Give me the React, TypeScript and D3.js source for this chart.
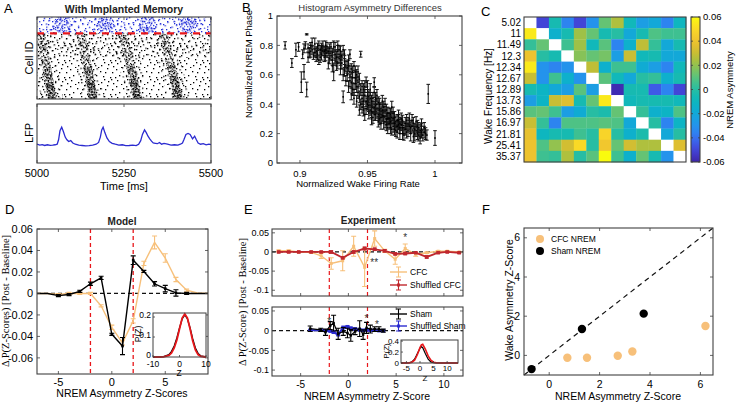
import React from "react";
import * as d3 from "d3";

const SANS = "'Liberation Sans', Arial, Helvetica, sans-serif";
const SERIF = "'Liberation Serif', 'Times New Roman', serif";
const AXC = "#404040";
const ORANGE = "#f7c07a";
const RED = "#e8161a";
const DARKRED = "#c0272d";
const BLUE = "#2b2bd0";

// ---------------- Panel A ----------------
const timeTicks = [5000, 5250, 5500];
const waveTopT = [5010, 5125, 5246, 5362];
const waveMidT = [5026, 5143, 5267, 5384];
const waveBottomT = [5044, 5163, 5290, 5408];
const burstT = [5072, 5197, 5317, 5433];
const lfpT = [5000, 5008, 5015, 5022, 5030, 5038, 5045, 5052, 5058, 5062, 5066, 5071, 5076, 5081, 5086, 5091, 5097, 5103, 5110, 5120, 5130, 5140, 5150, 5160, 5170, 5177, 5182, 5186, 5190, 5195, 5201, 5208, 5216, 5225, 5235, 5245, 5255, 5265, 5275, 5285, 5292, 5298, 5303, 5309, 5314, 5319, 5324, 5329, 5334, 5340, 5346, 5352, 5358, 5365, 5375, 5385, 5395, 5405, 5412, 5418, 5422, 5428, 5434, 5440, 5447, 5453, 5458, 5463, 5470, 5478, 5486, 5494, 5500];
const lfpV = [0.05, 0.0, 0.03, -0.02, 0.02, -0.01, 0.0, 0.02, 0.05, 0.3, 0.8, 1.0, 0.75, 0.45, 0.3, 0.2, 0.25, 0.12, 0.05, 0.0, -0.02, -0.04, -0.03, 0.0, 0.05, 0.15, 0.45, 0.85, 1.0, 0.7, 0.4, 0.2, 0.1, 0.05, 0.0, 0.02, -0.03, -0.02, 0.0, -0.03, 0.05, 0.25, 0.6, 0.85, 0.7, 0.5, 0.35, 0.22, 0.12, 0.1, 0.08, 0.15, 0.05, 0.1, 0.05, 0.0, 0.02, 0.0, 0.05, 0.12, 0.3, 0.6, 0.65, 0.6, 0.35, 0.5, 0.3, 0.12, 0.05, 0.08, 0.02, 0.05, 0.03];
// raster texture tiles (spike-dot texture)
const sparseDots = [[1, 1], [8, 3], [15, 0], [20, 4], [4, 7], [11, 8], [18, 9], [2, 12], [9, 14], [16, 13], [21, 15], [6, 16], [13, 4], [19, 11], [0, 9], [12, 11]];
const denseDots = [[0, 0], [4, 1], [8, 0], [2, 3], [6, 4], [10, 3], [1, 6], [5, 7], [9, 6], [3, 9], [7, 10], [0, 11], [10, 9], [6, 12], [2, 12], [8, 8], [4, 5], [9, 12], [1, 9], [7, 2], [3, 0], [5, 10]];

// ---------------- Panel B ----------------
const bTicksX = [0.9, 0.95, 1];
const bTicksY = [0, 0.2, 0.4, 0.6, 0.8, 1];
const bPoints: number[][] = [
  [0.889, 0.8, 0.025], [0.894, 0.68, 0.03], [0.897, 0.77, 0.045], [0.899, 0.79, 0.03], [0.901, 0.55, 0.07], [0.902, 0.74, 0.03], [0.903, 0.62, 0.05], [0.904, 0.8, 0.025], [0.905, 0.875, 0.004], [0.905, 0.5, 0.05], [0.906, 0.78, 0.03], [0.907, 0.75, 0.035], [0.908, 0.8, 0.02], [0.909, 0.77, 0.03], [0.91, 0.73, 0.025], [0.911, 0.81, 0.04], [0.912, 0.76, 0.03], [0.913, 0.79, 0.025], [0.914, 0.7, 0.03], [0.915, 0.77, 0.03], [0.916, 0.74, 0.04], [0.917, 0.8, 0.03], [0.918, 0.72, 0.03], [0.919, 0.77, 0.025], [0.92, 0.75, 0.03], [0.921, 0.68, 0.04], [0.922, 0.78, 0.03], [0.923, 0.73, 0.03], [0.924, 0.7, 0.035], [0.925, 0.79, 0.04], [0.925, 0.62, 0.06], [0.926, 0.74, 0.03], [0.927, 0.66, 0.03], [0.928, 0.76, 0.04], [0.929, 0.71, 0.03], [0.93, 0.64, 0.04], [0.931, 0.73, 0.03], [0.932, 0.6, 0.04], [0.932, 0.45, 0.04], [0.933, 0.69, 0.04], [0.934, 0.56, 0.035], [0.935, 0.65, 0.04], [0.936, 0.52, 0.04], [0.937, 0.62, 0.04], [0.938, 0.47, 0.04], [0.939, 0.58, 0.035], [0.94, 0.66, 0.03], [0.94, 0.44, 0.04], [0.941, 0.54, 0.04], [0.942, 0.6, 0.035], [0.943, 0.48, 0.04], [0.944, 0.57, 0.04], [0.945, 0.74, 0.02], [0.945, 0.4, 0.035], [0.946, 0.52, 0.04], [0.947, 0.36, 0.04], [0.948, 0.46, 0.04], [0.949, 0.55, 0.035], [0.95, 0.4, 0.04], [0.951, 0.34, 0.04], [0.952, 0.44, 0.04], [0.953, 0.3, 0.04], [0.954, 0.38, 0.04], [0.955, 0.48, 0.035], [0.956, 0.33, 0.04], [0.957, 0.4, 0.04], [0.958, 0.28, 0.035], [0.959, 0.36, 0.04], [0.96, 0.31, 0.04], [0.961, 0.42, 0.04], [0.962, 0.27, 0.04], [0.963, 0.35, 0.035], [0.964, 0.3, 0.04], [0.965, 0.24, 0.04], [0.966, 0.34, 0.035], [0.967, 0.28, 0.04], [0.968, 0.38, 0.04], [0.969, 0.25, 0.04], [0.97, 0.31, 0.04], [0.971, 0.22, 0.04], [0.972, 0.29, 0.04], [0.973, 0.26, 0.035], [0.974, 0.2, 0.04], [0.975, 0.3, 0.04], [0.976, 0.24, 0.04], [0.977, 0.19, 0.035], [0.978, 0.27, 0.04], [0.98, 0.22, 0.04], [0.981, 0.3, 0.04], [0.982, 0.2, 0.05], [0.983, 0.25, 0.04], [0.984, 0.18, 0.04], [0.985, 0.23, 0.04], [0.986, 0.28, 0.035], [0.987, 0.2, 0.04], [0.988, 0.24, 0.035], [0.989, 0.17, 0.04], [0.99, 0.21, 0.04], [0.991, 0.19, 0.04], [0.992, 0.24, 0.035], [0.995, 0.47, 0.065], [1.0, 0.17, 0.05],
  [0.912, 0.72, 0.03], [0.916, 0.79, 0.025], [0.918, 0.76, 0.03], [0.92, 0.79, 0.03], [0.922, 0.71, 0.035], [0.924, 0.75, 0.03], [0.926, 0.79, 0.03], [0.927, 0.72, 0.04], [0.929, 0.77, 0.03], [0.93, 0.7, 0.035], [0.933, 0.74, 0.03], [0.934, 0.66, 0.04], [0.936, 0.7, 0.035], [0.937, 0.56, 0.04], [0.938, 0.64, 0.035], [0.939, 0.5, 0.04], [0.941, 0.62, 0.04], [0.942, 0.42, 0.04], [0.943, 0.55, 0.04], [0.944, 0.36, 0.035], [0.946, 0.44, 0.04], [0.947, 0.5, 0.04], [0.948, 0.33, 0.04], [0.949, 0.42, 0.035], [0.95, 0.52, 0.04], [0.951, 0.45, 0.04], [0.952, 0.36, 0.035], [0.953, 0.42, 0.04], [0.954, 0.31, 0.04], [0.955, 0.38, 0.04], [0.956, 0.44, 0.04], [0.957, 0.34, 0.035], [0.958, 0.41, 0.04], [0.959, 0.3, 0.04], [0.96, 0.37, 0.04], [0.961, 0.32, 0.035], [0.962, 0.38, 0.04], [0.963, 0.28, 0.04], [0.964, 0.36, 0.04], [0.965, 0.3, 0.035], [0.966, 0.27, 0.04], [0.967, 0.33, 0.04], [0.968, 0.23, 0.04], [0.969, 0.3, 0.035], [0.97, 0.27, 0.04], [0.972, 0.25, 0.04], [0.973, 0.32, 0.04], [0.974, 0.27, 0.04], [0.976, 0.29, 0.035], [0.977, 0.24, 0.04], [0.979, 0.21, 0.04], [0.979, 0.29, 0.04], [0.981, 0.25, 0.04], [0.983, 0.29, 0.04], [0.985, 0.2, 0.05], [0.987, 0.25, 0.04], [0.989, 0.22, 0.04], [0.99, 0.26, 0.04], [0.993, 0.2, 0.04], [0.955, 0.55, 0.03],
  [0.903, 0.78, 0.03], [0.906, 0.72, 0.035], [0.908, 0.76, 0.04], [0.909, 0.82, 0.03], [0.911, 0.75, 0.03], [0.913, 0.74, 0.04], [0.914, 0.8, 0.03], [0.915, 0.72, 0.035], [0.917, 0.76, 0.03], [0.919, 0.73, 0.035], [0.919, 0.8, 0.03], [0.921, 0.76, 0.03], [0.923, 0.79, 0.03], [0.924, 0.66, 0.04], [0.926, 0.7, 0.035], [0.928, 0.68, 0.04], [0.928, 0.8, 0.03], [0.93, 0.76, 0.035], [0.931, 0.68, 0.04], [0.932, 0.77, 0.03], [0.933, 0.63, 0.04], [0.935, 0.6, 0.045], [0.936, 0.66, 0.04], [0.937, 0.74, 0.03], [0.938, 0.55, 0.04], [0.939, 0.62, 0.04], [0.94, 0.5, 0.04], [0.941, 0.58, 0.04], [0.942, 0.52, 0.04], [0.943, 0.62, 0.04], [0.944, 0.45, 0.04], [0.945, 0.5, 0.04], [0.946, 0.38, 0.04], [0.947, 0.42, 0.04], [0.948, 0.52, 0.04], [0.949, 0.37, 0.04], [0.95, 0.46, 0.04], [0.951, 0.39, 0.04], [0.952, 0.5, 0.04], [0.953, 0.35, 0.04], [0.954, 0.44, 0.04], [0.955, 0.33, 0.04], [0.956, 0.39, 0.04], [0.957, 0.46, 0.04], [0.958, 0.33, 0.04], [0.959, 0.4, 0.04], [0.96, 0.27, 0.04], [0.961, 0.36, 0.04], [0.962, 0.32, 0.04], [0.963, 0.4, 0.04], [0.964, 0.26, 0.04], [0.965, 0.34, 0.04], [0.966, 0.3, 0.04], [0.967, 0.24, 0.04], [0.968, 0.31, 0.04], [0.969, 0.34, 0.04], [0.97, 0.23, 0.04], [0.971, 0.28, 0.04], [0.972, 0.21, 0.04], [0.973, 0.29, 0.04], [0.974, 0.24, 0.04], [0.975, 0.26, 0.04], [0.976, 0.2, 0.04], [0.978, 0.23, 0.04], [0.98, 0.27, 0.04], [0.982, 0.24, 0.04], [0.984, 0.27, 0.04], [0.986, 0.22, 0.04], [0.988, 0.19, 0.04], [0.99, 0.23, 0.04], [0.992, 0.21, 0.04], [0.994, 0.19, 0.035],
];

// ---------------- Panel C ----------------
const freqLabels = ["5.02", "11", "11.49", "12.3", "12.34", "12.67", "12.89", "13.73", "15.86", "16.97", "21.81", "25.41", "35.37"];
const cbTicks = [0.06, 0.04, 0.02, 0, -0.02, -0.04, -0.06];
const heatRows: (number | null)[][] = [
  [null, -0.05, -0.005, -0.035, -0.05, -0.03, 0.012, 0.025, -0.008, -0.025, -0.02, -0.035, -0.01],
  [0.055, null, -0.015, -0.005, 0.022, 0.012, -0.005, 0, -0.02, -0.005, 0.008, 0.005, 0.005],
  [0.003, 0.012, null, 0.005, 0.022, -0.008, 0.01, -0.035, -0.015, 0.028, 0.003, -0.02, -0.005],
  [0.04, 0, -0.005, null, 0.018, 0.012, 0.015, -0.025, 0.03, -0.008, -0.005, -0.02, -0.02],
  [0.055, -0.03, -0.035, -0.03, null, 0.028, -0.015, 0.005, 0.005, -0.018, -0.025, -0.035, -0.008],
  [0.03, -0.03, 0.005, -0.015, -0.03, null, 0.01, -0.008, -0.02, 0, 0.003, -0.015, -0.005],
  [-0.005, -0.012, -0.02, -0.025, 0.01, -0.025, null, -0.058, -0.005, -0.005, -0.045, -0.035, -0.05],
  [-0.025, -0.012, 0.03, 0.035, -0.005, 0.012, 0.055, null, -0.008, -0.005, -0.005, -0.005, -0.008],
  [0.01, 0.012, 0.005, -0.025, -0.018, 0, -0.003, 0.012, null, 0.003, -0.015, -0.012, 0.008],
  [0.03, 0.003, -0.035, 0.008, 0.008, 0.008, 0.01, 0.008, -0.02, null, 0, -0.035, -0.012],
  [0.038, -0.01, -0.005, -0.005, 0.005, 0, 0.048, 0, -0.015, -0.003, null, -0.02, 0],
  [0.04, 0.008, 0.02, 0.032, 0.05, 0, 0.042, 0.012, 0.032, 0.025, 0.025, null, 0.035],
  [0.04, 0.005, 0.003, 0.025, 0, 0.01, 0.06, 0.005, -0.015, 0.012, -0.005, -0.03, null],
];
const parulaStops = ["#3e26a8", "#4748e5", "#2e87f7", "#1aa1e3", "#05b6c4", "#20bda5", "#64c577", "#abc037", "#e8bb2f", "#fcd02e", "#f9fb0e"];

// ---------------- Panel D ----------------
const dTicksX = [-5, 0, 5];
const dTicksY = [0.06, 0.04, 0.02, 0, -0.02, -0.04, -0.06];
const dX = [-7, -6, -5, -4, -3, -2, -1, 0, 1, 2, 3, 4, 5, 6, 7, 8, 9];
const dBlack = [0, 0, -0.002, -0.001, 0.002, 0.009, 0.0145, -0.038, -0.049, 0.031, 0.0205, 0.009, 0.0045, 0.0005, 0, 0, 0];
const dBlackErr = [0, 0, 0.001, 0.001, 0.001, 0.0015, 0.0015, 0.001, 0.008, 0.004, 0.001, 0.002, 0.003, 0.003, 0.001, 0, 0];
const dCFC = [0, 0, -0.001, 0, 0, 0, -0.0115, -0.0315, -0.046, -0.0255, 0.028, 0.0475, 0.033, 0.013, 0.003, 0.0005, 0];
const dCFCErr = [0, 0, 0.001, 0.001, 0.001, 0.001, 0.001, 0.002, 0.002, 0.002, 0.002, 0.006, 0.004, 0.002, 0.001, 0, 0];
const dInsetZ = [-10, -8, -6, -4, -3, -2, -1, 0, 1, 2, 3, 4, 5, 6, 7, 8, 10];
const dInsetBlack = [0, 0, 0.002, 0.012, 0.028, 0.055, 0.095, 0.145, 0.19, 0.21, 0.19, 0.145, 0.09, 0.045, 0.018, 0.006, 0];
const dInsetRed = [0, 0, 0.001, 0.008, 0.02, 0.045, 0.085, 0.14, 0.195, 0.215, 0.195, 0.14, 0.08, 0.035, 0.012, 0.003, 0];
const dThresholds = [-2, 2];

// ---------------- Panel E ----------------
const eTicksX = [-5, 0, 5, 10];
const eTicksY = [0.05, 0, -0.05, -0.1];
const eTopX = [-7.3, -6.25, -5.2, -3.9, -2.85, -1.8, -0.6, 0.55, 1.7, 2.75, 3.8, 4.9, 5.95, 7.05, 8.2, 9.4, 10.35, 11.6];
const eCFC = [0.003, 0.003, 0, -0.001, -0.01, -0.03, -0.023, 0.015, -0.04, 0.035, 0.003, -0.019, 0.009, -0.006, -0.002, 0.002, 0.002, 0];
const eCFCErr = [0.002, 0.002, 0.001, 0.002, 0.007, 0.015, 0.026, 0.026, 0.05, 0.02, 0.004, 0.013, 0.012, 0.005, 0.002, 0.002, 0.002, 0.001];
const eShufCFC = [0, 0, 0, 0, 0, 0, -0.015, 0, 0.009, 0.007, 0.003, -0.005, -0.004, -0.002, -0.013, -0.002, 0, -0.002];
const eShufCFCErr = [0.002, 0.002, 0.002, 0.002, 0.002, 0.003, 0.003, 0.003, 0.004, 0.003, 0.003, 0.003, 0.003, 0.002, 0.003, 0.002, 0.002, 0.002];
const eBotX = [-4.0, -2.9, -2.4, -1.9, -1.55, -1.07, -0.54, -0.1, 0.25, 0.7, 1.18, 1.54, 1.9, 2.3, 2.75, 3.2, 3.65];
const eSham = [0.005, 0.002, -0.004, 0.013, 0.019, -0.008, -0.002, -0.006, -0.012, -0.002, 0.005, -0.01, 0.007, 0.004, 0.004, 0.004, 0];
const eShamErr = [0.007, 0.004, 0.008, 0.01, 0.02, 0.014, 0.01, 0.012, 0.015, 0.008, 0.02, 0.012, 0.014, 0.01, 0.006, 0.006, 0.004];
const eShufSham = [0.001, 0.001, 0, -0.001, -0.004, -0.01, 0.008, 0.01, 0.006, 0.004, 0.002, 0.001, 0.002, 0.001, 0.001, 0, 0];
const eShufShamErr = [0.002, 0.002, 0.002, 0.002, 0.003, 0.003, 0.003, 0.003, 0.003, 0.003, 0.002, 0.002, 0.002, 0.002, 0.002, 0.002, 0.002];
const eTopStars = [{ x: 5.95, y: 0.045, s: "*" }, { x: 2.7, y: -0.022, s: "**" }];
const eBotStars = [{ x: -2.0, y: 0.03, s: "*" }, { x: 1.9, y: 0.037, s: "*" }, { x: 3.0, y: 0.022, s: "*" }];
const eInsetZ = [-7, -5, -4, -3, -2, -1, 0, 0.5, 1, 2, 3, 4, 5, 6, 8, 10, 14];
const eInsetBlack = [0, 0, 0.005, 0.02, 0.07, 0.17, 0.27, 0.3, 0.28, 0.17, 0.07, 0.02, 0.005, 0, 0, 0, 0];
const eInsetRed = [0, 0, 0.003, 0.015, 0.05, 0.15, 0.28, 0.33, 0.34, 0.25, 0.13, 0.05, 0.015, 0.004, 0, 0, 0];

// ---------------- Panel F ----------------
const fTicks = [0, 2, 4, 6];
const fCFCx = [0.72, 1.5, 2.72, 3.3, 6.2];
const fCFCy = [-0.12, -0.12, -0.02, 0.2, 1.5];
const fShamX = [-0.7, 1.3, 3.75];
const fShamY = [-0.7, 1.35, 2.13];

const fmtNum = (v: number) => String(v);

function Frame({ x0, y0, x1, y1, sw = 1.1 }: any) {
  return <rect x={x0} y={y0} width={x1 - x0} height={y1 - y0} fill="none" stroke={AXC} strokeWidth={sw} />;
}

function XTicks({ scale, ticks, y0, y1, fs, labelY, len = 3, fmt = fmtNum, labels = true }: any) {
  return (
    <g>
      {ticks.map((t: number) => {
        const x = scale(t);
        return (
          <g key={t}>
            <line x1={x} x2={x} y1={y1} y2={y1 - len} stroke={AXC} strokeWidth={0.8} />
            <line x1={x} x2={x} y1={y0} y2={y0 + len} stroke={AXC} strokeWidth={0.8} />
            {labels && (
              <text x={x} y={labelY} textAnchor="middle" fontSize={fs}>
                {fmt(t)}
              </text>
            )}
          </g>
        );
      })}
    </g>
  );
}

function YTicks({ scale, ticks, x0, x1, fs, dx = 3, len = 3, fmt = fmtNum }: any) {
  return (
    <g>
      {ticks.map((t: number) => {
        const y = scale(t);
        return (
          <g key={t}>
            <line x1={x0} x2={x0 + len} y1={y} y2={y} stroke={AXC} strokeWidth={0.8} />
            <line x1={x1} x2={x1 - len} y1={y} y2={y} stroke={AXC} strokeWidth={0.8} />
            <text x={x0 - dx} y={y} dy="0.35em" textAnchor="end" fontSize={fs}>
              {fmt(t)}
            </text>
          </g>
        );
      })}
    </g>
  );
}

function errPath(x: number, ya: number, yb: number, cap: number) {
  return `M${x},${ya}V${yb}M${x - cap},${ya}H${x + cap}M${x - cap},${yb}H${x + cap}`;
}

function RotText({ x, y, fs, children, family, weight }: any) {
  return (
    <text transform={`translate(${x},${y}) rotate(-90)`} textAnchor="middle" fontSize={fs} fontFamily={family} fontWeight={weight}>
      {children}
    </text>
  );
}

function PanelA() {
  const ax = d3.scaleLinear().domain([5000, 5500]).range([37, 211]);
  const ry = d3.scaleLinear().domain([0, 100]).range([17, 99]);
  const ly = d3.scaleLinear().domain([-1, 2.3]).range([163, 104]);
  const wave = d3
    .line<number[]>()
    .x((d) => ax(d[0]))
    .y((d) => ry(d[1]))
    .curve(d3.curveCatmullRom);
  const lfp = d3
    .line<number>()
    .x((_, i) => ax(lfpT[i]))
    .y((d) => ly(d));
  const pat = (id: string, w: number, h: number, dots: number[][], color: string, tr = "") => (
    <pattern id={id} width={w} height={h} patternUnits="userSpaceOnUse" patternTransform={tr}>
      {dots.map(([x, y], i) => (
        <rect key={i} x={x} y={y} width={1.3} height={1.3} fill={color} />
      ))}
    </pattern>
  );
  return (
    <g>
      <defs>
        {pat("pSparse", 23, 17, sparseDots, "#000")}
        {pat("pSparse2", 23, 17, sparseDots, "#000", "translate(11,8) rotate(9)")}
        {pat("pDense", 11, 13, denseDots, "#000", "rotate(13)")}
        {pat("pDense2", 11, 13, denseDots, "#000", "translate(5,6) rotate(-21)")}
        {pat("pDense3", 11, 13, denseDots, "#000", "translate(3,2) rotate(37)")}
        {pat("pBlueSparse", 23, 17, sparseDots, "#1f2bd8", "translate(5,3)")}
        {pat("pBlueSparse2", 23, 17, sparseDots, "#1f2bd8", "translate(14,9) rotate(11)")}
        {pat("pBlueDense", 11, 13, denseDots, "#1f2bd8", "rotate(7)")}
        <clipPath id="clipRaster">
          <rect x={37} y={17} width={174} height={82} />
        </clipPath>
      </defs>
      <g clipPath="url(#clipRaster)">
        <rect x={37} y={ry(20)} width={174} height={ry(100) - ry(20)} fill="url(#pSparse)" />
        <rect x={37} y={ry(20)} width={174} height={ry(50) - ry(20)} fill="url(#pSparse2)" />
        <rect x={37} y={17} width={174} height={ry(20) - 17} fill="url(#pBlueSparse)" />
        <rect x={37} y={17} width={174} height={ry(20) - 17} fill="url(#pBlueSparse2)" />
        {burstT.map((t, i) => (
          <g key={i}>
            <ellipse cx={ax(t)} cy={ry(9)} rx={9} ry={9} fill="url(#pBlueDense)" />
            <ellipse cx={ax(t)} cy={ry(9)} rx={15} ry={9} fill="url(#pBlueSparse2)" />
          </g>
        ))}
        {waveTopT.map((t, i) => {
          const pts = [
            [t, 20],
            [waveMidT[i], 58],
            [waveBottomT[i], 101],
          ];
          const lower = [
            [waveMidT[i] + 2, 60],
            [waveBottomT[i], 101],
          ];
          const bottom = [
            [waveMidT[i] + (waveBottomT[i] - waveMidT[i]) * 0.45, 80],
            [waveBottomT[i], 101],
          ];
          return (
            <g key={i}>
              <path d={wave(pts) || ""} fill="none" stroke="url(#pSparse2)" strokeWidth={22} />
              <path d={wave(pts) || ""} fill="none" stroke="url(#pDense)" strokeWidth={9} />
              <path d={wave(lower) || ""} fill="none" stroke="url(#pDense2)" strokeWidth={8} />
              <path d={wave(bottom) || ""} fill="none" stroke="url(#pDense3)" strokeWidth={7} />
            </g>
          );
        })}
        <line x1={37} x2={211} y1={ry(20)} y2={ry(20)} stroke={RED} strokeWidth={2.4} strokeDasharray="7,6" />
      </g>
      <Frame x0={37} y0={17} x1={211} y1={99} />
      <XTicks scale={ax} ticks={timeTicks} y0={17} y1={99} labels={false} />
      <path d={lfp(lfpV) || ""} fill="none" stroke={BLUE} strokeWidth={1.3} />
      <Frame x0={37} y0={104} x1={211} y1={163} />
      <XTicks scale={ax} ticks={timeTicks} y0={104} y1={163} fs={11} labelY={177} />
      <text x={124} y={13} textAnchor="middle" fontSize={10.5} fontWeight="bold" fill="#222">
        With Implanted Memory
      </text>
      <RotText x={33} y={58} fs={11}>Cell ID</RotText>
      <RotText x={33} y={133} fs={11}>LFP</RotText>
      <text x={124} y={190} textAnchor="middle" fontSize={11}>
        Time [ms]
      </text>
    </g>
  );
}

function PanelB() {
  const bx = d3.scaleLinear().domain([0.883, 1.02]).range([277, 462]);
  const by = d3.scaleLinear().domain([0, 1]).range([163, 16]);
  return (
    <g>
      <g stroke="#111" strokeWidth={1} fill="none">
        {bPoints.map(([x, y, e], i) => (
          <path key={i} d={errPath(bx(x), by(y - e), by(y + e), 1.8)} />
        ))}
      </g>
      <g fill="#000">
        {bPoints.map(([x, y], i) => (
          <rect key={i} x={bx(x) - 0.8} y={by(y) - 0.8} width={1.6} height={1.6} />
        ))}
      </g>
      <Frame x0={277} y0={16} x1={462} y1={163} />
      <XTicks scale={bx} ticks={bTicksX} y0={16} y1={163} fs={9.5} labelY={177} />
      <YTicks scale={by} ticks={bTicksY} x0={277} x1={462} fs={9.5} dx={4} />
      <text x={370} y={11} textAnchor="middle" fontSize={9.5} fill="#333">
        Histogram Asymmetry Differences
      </text>
      <RotText x={252} y={64} fs={9.5}>Normalized NREM Phase</RotText>
      <text x={358} y={187} textAnchor="middle" fontSize={9.5}>
        Normalized Wake Firing Rate
      </text>
    </g>
  );
}

function PanelC() {
  const idx = d3.range(13);
  const cx = d3.scaleBand<number>().domain(idx).range([524, 686]);
  const cy = d3.scaleBand<number>().domain(idx).range([17, 162]);
  const parula = d3.interpolateRgbBasis(parulaStops);
  const cScale = d3.scaleLinear().domain([-0.06, 0.06]).range([0, 1]).clamp(true);
  const cbY = d3.scaleLinear().domain([-0.06, 0.06]).range([162, 17]);
  const stops = d3.range(0, 1.0001, 0.05);
  return (
    <g>
      <defs>
        <linearGradient id="cbGrad" x1="0" y1="1" x2="0" y2="0">
          {stops.map((s) => (
            <stop key={s} offset={s} stopColor={parula(s)} />
          ))}
        </linearGradient>
      </defs>
      {heatRows.map((row, r) =>
        row.map((v, c) => (
          <rect
            key={`${r}-${c}`}
            x={cx(c)}
            y={cy(r)}
            width={cx.bandwidth() + 0.3}
            height={cy.bandwidth() + 0.3}
            fill={v === null ? "#ffffff" : parula(cScale(v))}
          />
        ))
      )}
      <Frame x0={524} y0={17} x1={686} y1={162} />
      {freqLabels.map((l, i) => (
        <text key={l} x={521} y={(cy(i) || 0) + cy.bandwidth() / 2} dy="0.35em" textAnchor="end" fontSize={10}>
          {l}
        </text>
      ))}
      <rect x={691} y={17} width={9} height={145} fill="url(#cbGrad)" />
      <Frame x0={691} y0={17} x1={700} y1={162} />
      {cbTicks.map((t) => (
        <g key={t}>
          <line x1={700} x2={698} y1={cbY(t)} y2={cbY(t)} stroke={AXC} strokeWidth={0.8} />
          <line x1={691} x2={693} y1={cbY(t)} y2={cbY(t)} stroke={AXC} strokeWidth={0.8} />
          <text x={703} y={cbY(t)} dy="0.35em" fontSize={9.5}>
            {fmtNum(t)}
          </text>
        </g>
      ))}
      <RotText x={733} y={90} fs={9.5}>NREM Asymmetry</RotText>
      <RotText x={492} y={96} fs={10}>Wake Frequency [Hz]</RotText>
    </g>
  );
}

function PanelD() {
  const x = d3.scaleLinear().domain([-7, 9]).range([37, 208]);
  const y = d3.scaleLinear().domain([-0.075, 0.06]).range([374, 229]);
  const line = (vals: number[]) =>
    d3
      .line<number>()
      .x((_, i) => x(dX[i]))
      .y((d) => y(d))(vals) || "";
  const ix = d3.scaleLinear().domain([-10, 10]).range([153, 206]);
  const iy = d3.scaleLinear().domain([0, 0.22]).range([357, 313]);
  const iline = (vals: number[]) =>
    d3
      .line<number>()
      .x((_, i) => ix(dInsetZ[i]))
      .y((d) => iy(d))(vals) || "";
  return (
    <g>
      <line x1={37} x2={208} y1={y(0)} y2={y(0)} stroke="#111" strokeWidth={1.3} strokeDasharray="4,3" />
      {dThresholds.map((t) => (
        <line key={t} x1={x(t)} x2={x(t)} y1={229} y2={374} stroke={RED} strokeWidth={1.3} strokeDasharray="4,3" />
      ))}
      <path d={line(dCFC)} fill="none" stroke={ORANGE} strokeWidth={1.4} />
      <g stroke={ORANGE} strokeWidth={1.1}>
        {dCFC.map((v, i) =>
          dCFCErr[i] > 0 ? <path key={i} d={errPath(x(dX[i]), y(v - dCFCErr[i]), y(v + dCFCErr[i]), 2.5)} fill="none" /> : null
        )}
      </g>
      <path d={line(dBlack)} fill="none" stroke="#000" strokeWidth={1.4} />
      <g stroke="#000" strokeWidth={1.1}>
        {dBlack.map((v, i) =>
          dBlackErr[i] > 0 ? <path key={i} d={errPath(x(dX[i]), y(v - dBlackErr[i]), y(v + dBlackErr[i]), 2.5)} fill="none" /> : null
        )}
      </g>
      <g fill="#000">
        {dBlack.map((v, i) => (dBlackErr[i] > 0 ? <rect key={i} x={x(dX[i]) - 1.3} y={y(v) - 1.3} width={2.6} height={2.6} /> : null))}
      </g>
      <Frame x0={37} y0={229} x1={208} y1={374} />
      <XTicks scale={x} ticks={dTicksX} y0={229} y1={374} fs={11} labelY={386} />
      <YTicks scale={y} ticks={dTicksY} x0={37} x1={208} fs={11} dx={4} />
      {/* inset */}
      <rect x={153} y={313} width={53} height={44} fill="#fff" />
      <path d={iline(dInsetBlack)} fill="none" stroke="#000" strokeWidth={1.3} />
      <path d={iline(dInsetRed)} fill="none" stroke={RED} strokeWidth={1.8} />
      <Frame x0={153} y0={313} x1={206} y1={357} sw={1} />
      {[0, 0.1, 0.2].map((t) => (
        <g key={t}>
          <line x1={153} x2={155} y1={iy(t)} y2={iy(t)} stroke={AXC} strokeWidth={0.8} />
          <text x={151} y={iy(t) - 2} dy="0.35em" textAnchor="end" fontSize={8.5}>
            {fmtNum(t)}
          </text>
        </g>
      ))}
      {[-10, 0, 10].map((t) => (
        <g key={t}>
          <line x1={ix(t)} x2={ix(t)} y1={357} y2={355} stroke={AXC} strokeWidth={0.8} />
          <text x={ix(t)} y={367} textAnchor="middle" fontSize={8.5}>
            {fmtNum(t)}
          </text>
        </g>
      ))}
      <RotText x={141} y={334} fs={8.5}>P(Z)</RotText>
      <text x={179} y={376} textAnchor="middle" fontSize={8.5}>
        Z
      </text>
      <text x={122} y={225} textAnchor="middle" fontSize={10} fontWeight="bold" fill="#222">
        Model
      </text>
      <text x={122} y={397} textAnchor="middle" fontSize={10.5}>
        NREM Asymmetry Z-Scores
      </text>
      <RotText x={9} y={301} fs={10.5} family={SERIF}>
        Δ P(Z-Scores) [Post - Baseline]
      </RotText>
    </g>
  );
}

function LegendItem({ x, y, color, label, marker }: any) {
  return (
    <g>
      <line x1={x} x2={x + 17} y1={y} y2={y} stroke={color} strokeWidth={1.4} />
      <path d={errPath(x + 8.5, y - 5, y + 5, 2.5)} stroke={color} strokeWidth={1.1} fill="none" />
      {marker && <rect x={x + 7} y={y - 1.5} width={3} height={3} fill={color} />}
      <text x={x + 20} y={y} dy="0.35em" fontSize={8.5}>
        {label}
      </text>
    </g>
  );
}

function PanelE() {
  const x = d3.scaleLinear().domain([-8, 12]).range([272, 463]);
  const yT = d3.scaleLinear().domain([-0.115, 0.06]).range([296, 229]);
  const yB = d3.scaleLinear().domain([-0.115, 0.06]).range([376, 307]);
  const mk = (xs: number[], ys: number[], ysc: any) =>
    d3
      .line<number>()
      .x((_, i) => x(xs[i]))
      .y((d) => ysc(d))(ys) || "";
  const errs = (xs: number[], ys: number[], es: number[], ysc: any, color: string, cap: number) => (
    <g stroke={color} strokeWidth={1.1} fill="none">
      {ys.map((v, i) => (
        <path key={i} d={errPath(x(xs[i]), ysc(v - es[i]), ysc(v + es[i]), cap)} />
      ))}
    </g>
  );
  const squares = (xs: number[], ys: number[], ysc: any, color: string, s: number) => (
    <g fill={color}>
      {ys.map((v, i) => (
        <rect key={i} x={x(xs[i]) - s / 2} y={ysc(v) - s / 2} width={s} height={s} />
      ))}
    </g>
  );
  const ix = d3.scaleLinear().domain([-7, 14]).range([401, 458]);
  const iy = d3.scaleLinear().domain([0, 0.42]).range([363, 340]);
  const iline = (vals: number[]) =>
    d3
      .line<number>()
      .x((_, i) => ix(eInsetZ[i]))
      .y((d) => iy(d))(vals) || "";
  return (
    <g>
      {/* top */}
      <line x1={272} x2={463} y1={yT(0)} y2={yT(0)} stroke="#111" strokeWidth={1.2} strokeDasharray="4,3" />
      {dThresholds.map((t) => (
        <line key={t} x1={x(t)} x2={x(t)} y1={229} y2={296} stroke={RED} strokeWidth={1.2} strokeDasharray="4,3" />
      ))}
      <path d={mk(eTopX, eCFC, yT)} fill="none" stroke={ORANGE} strokeWidth={1.4} />
      {errs(eTopX, eCFC, eCFCErr, yT, ORANGE, 2.5)}
      {squares(eTopX, eCFC, yT, ORANGE, 3)}
      <path d={mk(eTopX, eShufCFC, yT)} fill="none" stroke={DARKRED} strokeWidth={1.8} />
      {errs(eTopX, eShufCFC, eShufCFCErr, yT, DARKRED, 2)}
      {squares(eTopX, eShufCFC, yT, DARKRED, 3.5)}
      {eTopStars.map((s, i) => (
        <text key={i} x={x(s.x)} y={yT(s.y)} dy="0.6em" textAnchor="middle" fontSize={10} fill="#333">
          {s.s}
        </text>
      ))}
      <LegendItem x={390} y={272} color={ORANGE} label="CFC" />
      <LegendItem x={390} y={285} color={DARKRED} label="Shuffled CFC" marker />
      <Frame x0={272} y0={229} x1={463} y1={296} />
      <XTicks scale={x} ticks={eTicksX} y0={229} y1={296} labels={false} />
      <YTicks scale={yT} ticks={eTicksY} x0={272} x1={463} fs={9} dx={3} />
      {/* bottom */}
      <line x1={272} x2={463} y1={yB(0)} y2={yB(0)} stroke="#111" strokeWidth={1.2} strokeDasharray="4,3" />
      {dThresholds.map((t) => (
        <line key={t} x1={x(t)} x2={x(t)} y1={307} y2={376} stroke={RED} strokeWidth={1.2} strokeDasharray="4,3" />
      ))}
      <path d={mk(eBotX, eShufSham, yB)} fill="none" stroke={BLUE} strokeWidth={2.2} />
      {errs(eBotX, eShufSham, eShufShamErr, yB, BLUE, 2)}
      {squares(eBotX, eShufSham, yB, BLUE, 3.5)}
      <path d={mk(eBotX, eSham, yB)} fill="none" stroke="#000" strokeWidth={1.2} />
      {errs(eBotX, eSham, eShamErr, yB, "#000", 2.5)}
      {squares(eBotX, eSham, yB, "#000", 2.5)}
      {eBotStars.map((s, i) => (
        <text key={i} x={x(s.x)} y={yB(s.y)} dy="0.6em" textAnchor="middle" fontSize={10} fill="#333">
          {s.s}
        </text>
      ))}
      <LegendItem x={390} y={314} color="#000" label="Sham" />
      <LegendItem x={390} y={326} color={BLUE} label="Shuffled Sham" marker />
      {/* inset */}
      <rect x={401} y={340} width={57} height={23} fill="#fff" />
      <path d={iline(eInsetBlack)} fill="none" stroke="#000" strokeWidth={1.2} />
      <path d={iline(eInsetRed)} fill="none" stroke={RED} strokeWidth={1.6} />
      <Frame x0={401} y0={340} x1={458} y1={363} sw={1} />
      {[0, 0.2, 0.4].map((t) => (
        <g key={t}>
          <line x1={401} x2={403} y1={iy(t)} y2={iy(t)} stroke={AXC} strokeWidth={0.8} />
          <text x={399} y={iy(t)} dy="0.35em" textAnchor="end" fontSize={8}>
            {fmtNum(t)}
          </text>
        </g>
      ))}
      {[-5, 0, 5, 10].map((t) => (
        <g key={t}>
          <line x1={ix(t)} x2={ix(t)} y1={363} y2={361} stroke={AXC} strokeWidth={0.8} />
          <text x={ix(t)} y={371} textAnchor="middle" fontSize={8}>
            {fmtNum(t)}
          </text>
        </g>
      ))}
      <RotText x={389} y={351} fs={8}>P(Z)</RotText>
      <text x={425} y={381} textAnchor="middle" fontSize={8}>
        Z
      </text>
      <Frame x0={272} y0={307} x1={463} y1={376} />
      <XTicks scale={x} ticks={eTicksX} y0={307} y1={376} fs={10} labelY={388} />
      <YTicks scale={yB} ticks={eTicksY} x0={272} x1={463} fs={9} dx={3} />
      <text x={368} y={224} textAnchor="middle" fontSize={10} fontWeight="bold" fill="#222">
        Experiment
      </text>
      <text x={367} y={400} textAnchor="middle" fontSize={10.5}>
        NREM Asymmetry Z-Score
      </text>
      <RotText x={246} y={302} fs={10.5} family={SERIF}>
        Δ P(Z-Score) [Post - Baseline]
      </RotText>
    </g>
  );
}

function PanelF() {
  const x = d3.scaleLinear().domain([-1, 6.5]).range([524, 713]);
  const y = d3.scaleLinear().domain([-1, 6.5]).range([375, 228]);
  return (
    <g>
      <line x1={x(-1)} y1={y(-1)} x2={x(6.5)} y2={y(6.5)} stroke="#111" strokeWidth={1.2} strokeDasharray="5,4" />
      {fCFCx.map((v, i) => (
        <circle key={i} cx={x(v)} cy={y(fCFCy[i])} r={4.2} fill={ORANGE} />
      ))}
      {fShamX.map((v, i) => (
        <circle key={i} cx={x(v)} cy={y(fShamY[i])} r={4.2} fill="#000" />
      ))}
      <circle cx={540} cy={239} r={4} fill={ORANGE} />
      <text x={551} y={239} dy="0.35em" fontSize={8.5}>
        CFC NREM
      </text>
      <circle cx={540} cy={251} r={4} fill="#000" />
      <text x={551} y={251} dy="0.35em" fontSize={8.5}>
        Sham NREM
      </text>
      <Frame x0={524} y0={228} x1={713} y1={375} />
      <XTicks scale={x} ticks={fTicks} y0={228} y1={375} fs={10.5} labelY={388} />
      <YTicks scale={y} ticks={fTicks} x0={524} x1={713} fs={10.5} dx={4} />
      <text x={618} y={400} textAnchor="middle" fontSize={10.5}>
        NREM Asymmetry Z-Score
      </text>
      <RotText x={513} y={300} fs={10.5}>Wake Asymmetry Z-Score</RotText>
    </g>
  );
}

export default function App() {
  return (
    <div style={{ position: "absolute", left: 0, top: 0 }}>
      <svg width={736} height={404} fontFamily={SANS} style={{ display: "block", background: "#fff" }}>
        <rect width={736} height={404} fill="#fff" />
        <PanelA />
        <PanelB />
        <PanelC />
        <PanelD />
        <PanelE />
        <PanelF />
        <g fontSize={13}>
          <text x={4} y={13}>A</text>
          <text x={242} y={12}>B</text>
          <text x={481} y={16}>C</text>
          <text x={5} y={214}>D</text>
          <text x={244} y={214}>E</text>
          <text x={482} y={214}>F</text>
        </g>
      </svg>
    </div>
  );
}
